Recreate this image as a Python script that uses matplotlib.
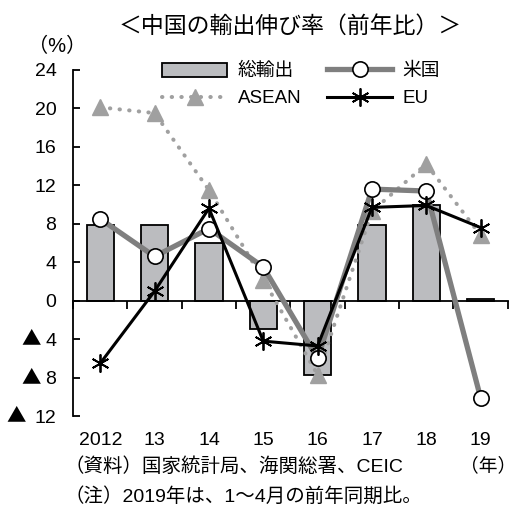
import numpy as np
import matplotlib.pyplot as plt
import matplotlib.transforms as mtransforms
from matplotlib.patches import Patch
from matplotlib.lines import Line2D

plt.rcParams['font.family'] = ['Liberation Sans', 'Noto Sans CJK JP', 'DejaVu Sans']

# export growth, % yoy
years = ['2012', '13', '14', '15', '16', '17', '18', '19']
total = [7.9, 7.9, 6.0, -2.9, -7.7, 7.9, 9.9, 0.2]
us = [8.5, 4.6, 7.5, 3.5, -6.0, 11.6, 11.4, -10.1]
asean = [20.1, 19.5, 11.5, 2.2, -7.7, 9.3, 14.2, 6.8]
eu = [-6.5, 1.0, 9.6, -4.2, -4.7, 9.7, 9.9, 7.6]

yticks = list(range(-12, 25, 4))

bar_color = '#bbbcbf'
us_color = '#7f7f7f'
asean_color = '#a0a0a0'
eu_marker = (6, 2, 0)

fig = plt.figure(figsize=(5.15, 5.17), dpi=100)
ax = fig.add_axes([0.142, 0.195, 0.844, 0.67])

x = np.arange(len(years))
ax.bar(x, total, width=0.5, color=bar_color, edgecolor='black', linewidth=1.3, zorder=2)
ax.plot(x, asean, color=asean_color, lw=2.9, linestyle=(0, (0.1, 2.3)),
        dash_capstyle='round', marker='^', ms=11, mfc=asean_color, mec=asean_color, zorder=3)
ax.plot(x, us, color=us_color, lw=3.8, marker='o', ms=11, mfc='white',
        mec='black', mew=1.2, zorder=4)
ax.plot(x, eu, color='black', lw=2.2, marker=eu_marker, ms=13, mec='black',
        mew=1.3, zorder=5)

ax.set_xlim(-0.5, 7.5)
ax.set_ylim(-12, 24)
ax.set_yticks(yticks)
# negative values are written as ▲ + absolute value
ax.set_yticklabels([str(abs(v)) for v in yticks], fontsize=14)
ax.tick_params(axis='y', direction='in', length=5, width=1.3, pad=12)
for v in yticks:
    if v < 0:
        ndig = len(str(abs(v)))
        tr = mtransforms.offset_copy(ax.get_yaxis_transform(), fig=fig,
                                     x=-(17 + 15 * ndig) * 0.72, y=0, units='points')
        ax.text(0, v, '▲', transform=tr, ha='right', va='center', fontsize=14,
                family=['Noto Sans CJK JP'])

# category axis sits on the zero line, ticks between the years
ax.spines['bottom'].set_position(('data', 0))
ax.spines['bottom'].set_linewidth(1.3)
ax.spines['left'].set_linewidth(1.3)
ax.spines['top'].set_visible(False)
ax.spines['right'].set_visible(False)
ax.set_xticks(np.arange(-0.5, 8, 1))
ax.set_xticklabels([])
ax.tick_params(axis='x', direction='out', length=6, width=1.3)
for i, lab in enumerate(years):
    ax.text(i, -0.07, lab, transform=ax.get_xaxis_transform(),
            ha='center', va='center', fontsize=14)

handles = [
    Patch(facecolor=bar_color, edgecolor='black', linewidth=1.3),
    Line2D([], [], color=asean_color, lw=2.9, linestyle=(0, (0.1, 2.3)),
           dash_capstyle='round', marker='^', ms=11, mfc=asean_color, mec=asean_color),
    Line2D([], [], color=us_color, lw=3.8, marker='o', ms=11, mfc='white', mec='black', mew=1.2),
    Line2D([], [], color='black', lw=2.2, marker=eu_marker, ms=13, mec='black', mew=1.3),
]
labels = ['総輸出', 'ASEAN', '米国', 'EU']
fig.legend(handles, labels, loc='upper left', bbox_to_anchor=(0.296, 0.897),
           ncol=2, frameon=False, fontsize=13.5, handlelength=3.5, handleheight=0.8,
           handletextpad=0.55, columnspacing=1.35, labelspacing=0.5, borderpad=0,
           numpoints=1)

fig.text(0.563, 0.950, '＜中国の輸出伸び率（前年比）＞', ha='center', va='center', fontsize=16.5)
fig.text(0.111, 0.911, '（%）', ha='center', va='center', fontsize=14.5)
fig.text(0.948, 0.099, '（年）', ha='center', va='center', fontsize=13.5)
fig.text(0.126, 0.097, '（資料）国家統計局、海関総署、CEIC', ha='left', va='center', fontsize=14)
fig.text(0.126, 0.039, '（注）2019年は、1～4月の前年同期比。', ha='left', va='center', fontsize=14)

fig.savefig('out.png', dpi=100)
